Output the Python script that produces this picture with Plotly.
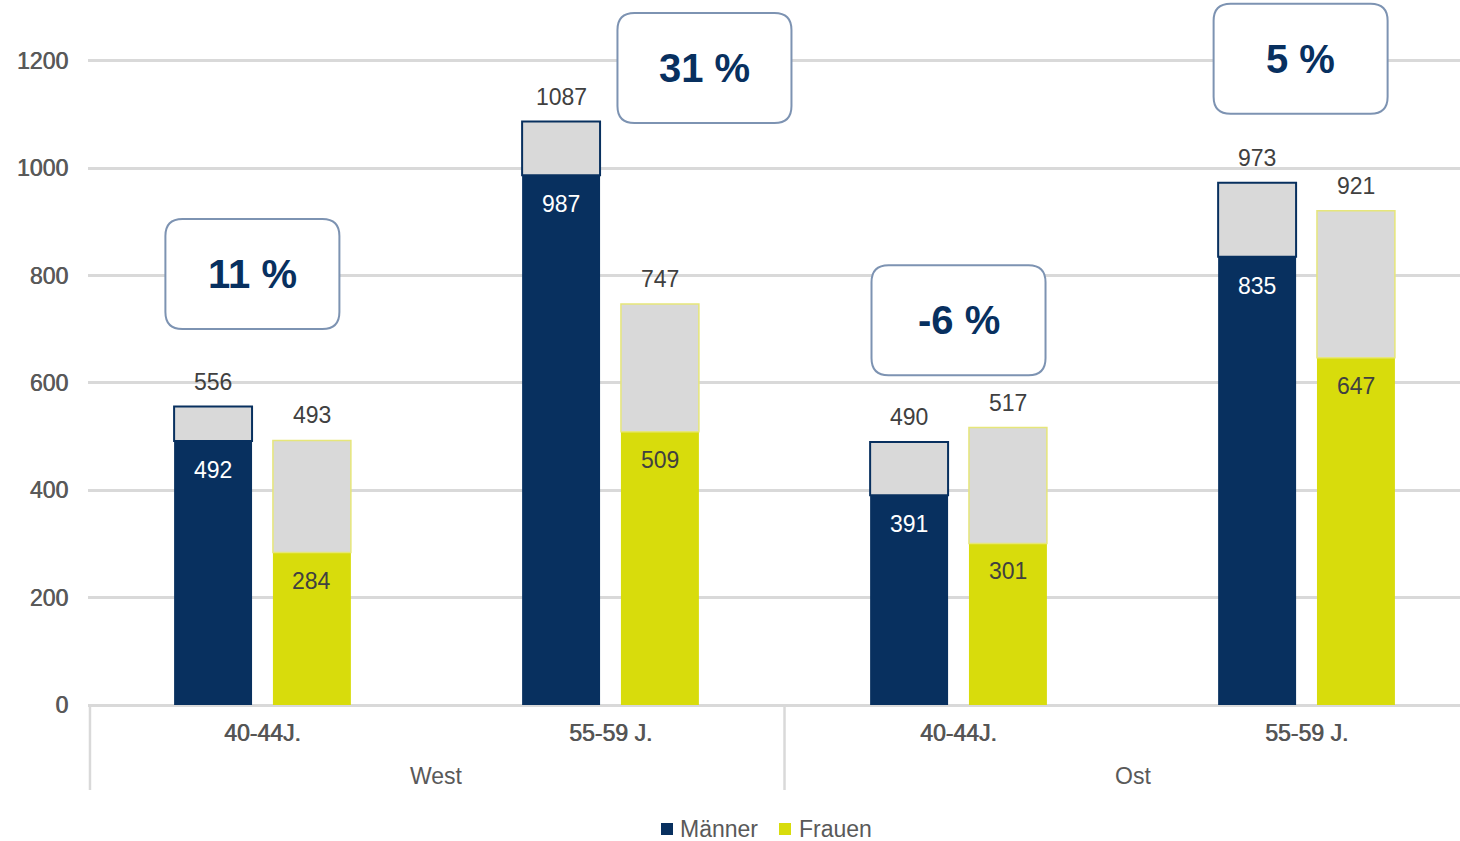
import plotly.graph_objects as go

# ---- data ----
regions = ["West", "West", "Ost", "Ost"]
age_groups = ["40-44J.", "55-59 J.", "40-44J.", "55-59 J."]
maenner = [492, 987, 391, 835]
maenner_total = [556, 1087, 490, 973]
frauen = [284, 509, 301, 647]
frauen_total = [493, 747, 517, 921]
change_labels = ["11 %", "31 %", "-6 %", "5 %"]
region_names = ["West", "Ost"]
series_names = ["Männer", "Frauen"]

# ---- style ----
NAVY = "#08305f"
YELLOW = "#d8dc0c"
GREY = "#d9d9d9"
TXT = "#595959"
DARK = "#404040"
FONT = "Liberation Sans, Arial, sans-serif"
HEAVY = "0.7px 0 0 #595959"

H_PLOT = 705.0   # plot height px (margin t=0, b=136)
W_PLOT = 1372.0  # plot width px (margin l=88, r=0)

idx = list(range(len(age_groups)))
W = 0.224
OFF_M = -0.254
OFF_F = 0.030

fig = go.Figure()
fig.add_trace(go.Bar(x=idx, y=maenner, name=series_names[0], offset=OFF_M, width=W,
                     marker=dict(color=NAVY, line=dict(width=0))))
fig.add_trace(go.Bar(x=idx, y=[t - v for t, v in zip(maenner_total, maenner)], base=maenner,
                     offset=OFF_M, width=W, showlegend=False, hoverinfo="skip",
                     marker=dict(color=GREY, line=dict(color=NAVY, width=2))))
fig.add_trace(go.Bar(x=idx, y=frauen, name=series_names[1], offset=OFF_F, width=W,
                     marker=dict(color=YELLOW, line=dict(width=0))))
fig.add_trace(go.Bar(x=idx, y=[t - v for t, v in zip(frauen_total, frauen)], base=frauen,
                     offset=OFF_F, width=W, showlegend=False, hoverinfo="skip",
                     marker=dict(color=GREY, line=dict(color="#e6e67a", width=1.5))))

ann = []
for i in idx:
    xm = i + OFF_M + W / 2
    xf = i + OFF_F + W / 2
    ann.append(dict(x=xm, y=maenner[i], text=str(maenner[i]), yshift=-29, showarrow=False,
                    font=dict(size=23, color="white", family=FONT)))
    ann.append(dict(x=xf, y=frauen[i], text=str(frauen[i]), yshift=-28, showarrow=False,
                    font=dict(size=23, color=DARK, family=FONT)))
    ann.append(dict(x=xm, y=maenner_total[i], text=str(maenner_total[i]), yshift=25, showarrow=False,
                    font=dict(size=23, color=DARK, family=FONT)))
    ann.append(dict(x=xf, y=frauen_total[i], text=str(frauen_total[i]), yshift=25, showarrow=False,
                    font=dict(size=23, color=DARK, family=FONT)))
    ann.append(dict(x=i, y=0, text=age_groups[i], yshift=-28, showarrow=False, yanchor="middle",
                    font=dict(size=23, color="#555555", family=FONT, shadow=HEAVY)))
for k, rn in enumerate(region_names):
    ann.append(dict(x=2 * k + 0.5, y=0, text=rn, yshift=-71, showarrow=False, yanchor="middle",
                    font=dict(size=23, color=TXT, family=FONT)))

# percentage boxes (layout positions)
box_x = [-0.029, 1.270, 2.0, 2.983]
box_y = [803, 1187, 717, 1204]
PXX = 348.0      # px per x unit
PXY = 0.5367     # px per y unit
bw, bh, r = 174, 110, 17
shapes = []
for cx, cy, lab in zip(box_x, box_y, change_labels):
    hx, hy = bw / 2 / PXX, bh / 2 / PXY
    rx, ry = r / PXX, r / PXY
    x0, x1, y0, y1 = cx - hx, cx + hx, cy - hy, cy + hy
    path = (f"M{x0+rx},{y0} L{x1-rx},{y0} Q{x1},{y0} {x1},{y0+ry} L{x1},{y1-ry} "
            f"Q{x1},{y1} {x1-rx},{y1} L{x0+rx},{y1} Q{x0},{y1} {x0},{y1-ry} "
            f"L{x0},{y0+ry} Q{x0},{y0} {x0+rx},{y0} Z")
    shapes.append(dict(type="path", path=path, xref="x", yref="y", fillcolor="white",
                       line=dict(color="#7d93b2", width=2), layer="above"))
    ann.append(dict(x=cx, y=cy, text=f"<b>{lab}</b>", showarrow=False, yanchor="middle",
                    font=dict(size=40, color=NAVY, family=FONT)))

# group dividers
for xd in [-0.4957, 1.5]:
    shapes.append(dict(type="line", xref="x", yref="paper", x0=xd, x1=xd, y0=0,
                       y1=-(790 - 705) / H_PLOT, line=dict(color=GREY, width=2.5)))

# manual legend (pixel layout -> paper coords)
def px_x(p):
    return (p - 88) / W_PLOT

def px_y(p):
    return (H_PLOT - p) / H_PLOT

leg_sq_left = [661, 779]
leg_txt_left = [678, 797]
leg_colors = [NAVY, YELLOW]
for sl, tl, col, nm in zip(leg_sq_left, leg_txt_left, leg_colors, series_names):
    shapes.append(dict(type="rect", xref="paper", yref="paper",
                       x0=px_x(sl), x1=px_x(sl + 12), y0=px_y(835), y1=px_y(823),
                       fillcolor=col, line=dict(width=0)))
    ann.append(dict(xref="paper", yref="paper", x=px_x(tl), y=px_y(829), text=nm,
                    xanchor="left", yanchor="middle", showarrow=False,
                    font=dict(size=23, color=TXT, family=FONT)))

fig.update_layout(
    width=1460, height=841,
    margin=dict(l=88, r=0, t=0, b=136),
    paper_bgcolor="white", plot_bgcolor="white",
    barmode="overlay",
    font=dict(family=FONT, size=23, color=TXT),
    annotations=ann, shapes=shapes,
    showlegend=False,
)
fig.update_xaxes(range=[-0.5014, 3.441], showticklabels=False, showgrid=False,
                 zeroline=False, showline=False, fixedrange=True)
fig.update_yaxes(range=[0, H_PLOT / PXY], tickvals=[0, 200, 400, 600, 800, 1000, 1200],
                 showgrid=True, gridcolor=GREY, gridwidth=2.5,
                 zeroline=True, zerolinecolor=GREY, zerolinewidth=3,
                 tickfont=dict(size=23, color=TXT, family=FONT, shadow=HEAVY),
                 ticklabelstandoff=19, showline=False)

fig.write_html("out.html")
